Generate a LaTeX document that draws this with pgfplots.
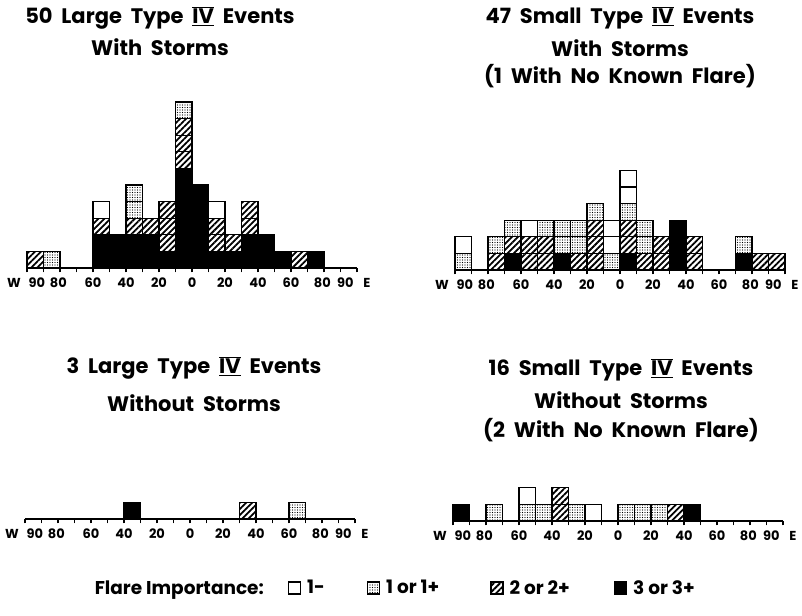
\documentclass[border=0pt]{standalone}
\usepackage{fontspec}
\setmainfont{Poppins}
\usepackage{pgfplots}
\pgfplotsset{compat=1.18}
\usepackage{pgfplotstable}
\usetikzlibrary{patterns.meta}

\newcommand\IV{\ensuremath{\overline{\underline{\mbox{IV}}}}}
\newcommand\tlfont{\fontsize{13}{13}\selectfont\bfseries}
\newcommand\ttfont{\fontsize{21}{21}\selectfont\bfseries\spaceskip=0.42em\relax}
\newcommand\lgfont{\fontsize{18.5}{18.5}\selectfont\bfseries}
\newcommand\gap[1]{\rule{#1}{0pt}}

% columns: k = 3 or 3+ (count), h1..h3 = 2 or 2+ units, d1..d2 = 1 or 1+ units, w1..w2 = 1- units
\pgfplotstableread{
x   k h1 h2 h3 d1 d2 w1 w2
-95 0 1 0 0 0 0 0 0
-85 0 0 0 0 1 0 0 0
-55 2 1 0 0 0 0 1 0
-45 2 0 0 0 0 0 0 0
-35 2 1 0 0 1 1 0 0
-25 2 1 0 0 0 0 0 0
-15 1 1 1 1 0 0 0 0
-5  6 1 1 1 1 0 0 0
5   5 0 0 0 0 0 0 0
15  1 1 1 0 0 0 1 0
25  1 1 0 0 0 0 0 0
35  2 1 1 0 0 0 0 0
45  2 0 0 0 0 0 0 0
55  1 0 0 0 0 0 0 0
65  0 1 0 0 0 0 0 0
75  1 0 0 0 0 0 0 0
}\tableA

\pgfplotstableread{
x   k h1 h2 h3 d1 d2 w1 w2
-95 0 0 0 0 1 0 1 0
-75 0 1 0 0 1 0 0 0
-65 1 1 0 0 1 0 0 0
-55 0 1 1 0 0 0 1 0
-45 0 1 1 0 1 0 0 0
-35 1 0 0 0 1 1 0 0
-25 0 1 0 0 1 1 0 0
-15 0 1 1 1 1 0 0 0
-5  0 0 0 0 1 0 1 1
5   1 1 1 0 1 0 1 1
15  0 1 0 0 1 1 0 0
25  0 1 1 0 0 0 0 0
35  3 0 0 0 0 0 0 0
45  0 1 1 0 0 0 0 0
75  1 0 0 0 1 0 0 0
85  0 1 0 0 0 0 0 0
95  0 1 0 0 0 0 0 0
}\tableB

\pgfplotstableread{
x   k h1 h2 h3 d1 d2 w1 w2
-35 1 0 0 0 0 0 0 0
35  0 1 0 0 0 0 0 0
65  0 0 0 0 1 0 0 0
}\tableC

\pgfplotstableread{
x   k h1 h2 h3 d1 d2 w1 w2
-95 1 0 0 0 0 0 0 0
-75 0 0 0 0 1 0 0 0
-55 0 0 0 0 1 0 1 0
-45 0 0 0 0 1 0 0 0
-35 0 1 1 0 0 0 0 0
-25 0 0 0 0 1 0 0 0
-15 0 0 0 0 0 0 1 0
5   0 0 0 0 1 0 0 0
15  0 0 0 0 1 0 0 0
25  0 0 0 0 1 0 0 0
35  0 1 0 0 0 0 0 0
45  1 0 0 0 0 0 0 0
}\tableD

\pgfplotsset{
  blk/.style={fill=black,draw=black},
  hat/.style={fill=white,draw=black,postaction={pattern={Lines[angle=45,distance=4.3pt,line width=1.8pt]}}},
  dts/.style={fill=white,draw=black,postaction={pattern={Dots[distance=2.5pt,radius=0.7pt]}}},
  wht/.style={fill=white,draw=black},
  panel/.style={
    x=1.65pt, y=16.6pt, xmin=-100, xmax=100, ymin=0,
    anchor=south west, ybar stacked, bar width=10,
    axis x line=bottom, axis y line=none,
    x axis line style={-, line width=1.4pt},
    enlargelimits=false, clip=false,
    xtick={-94,-81,-60,-40,-20,0,20,40,60,79,93},
    xticklabels={90,80,60,40,20,0,20,40,60,80,90},
    minor xtick={-100,-90,...,100},
    major tick length=0pt, minor tick length=4.5pt, tick align=outside,
    tick style={black, line width=1.3pt},
    xticklabel style={font=\tlfont, anchor=center, yshift=-15pt},
    every axis plot/.append style={line width=1.3pt},
  },
}

\newcommand\stack[1]{%
  \addplot[blk] table[x=x,y=k]{#1};
  \addplot[hat] table[x=x,y=h1]{#1};
  \addplot[hat] table[x=x,y=h2]{#1};
  \addplot[hat] table[x=x,y=h3]{#1};
  \addplot[dts] table[x=x,y=d1]{#1};
  \addplot[dts] table[x=x,y=d2]{#1};
  \addplot[wht] table[x=x,y=w1]{#1};
  \addplot[wht] table[x=x,y=w2]{#1};
}
\newcommand\WE{%
  \node[font=\tlfont] at ([xshift=-13pt,yshift=-15pt]axis cs:-100,0) {W};
  \node[font=\tlfont] at ([xshift=10pt,yshift=-15pt]axis cs:100,0) {E};
}

\begin{document}
\begin{tikzpicture}
\path[use as bounding box] (0pt,0pt) rectangle (802pt,615pt);

% titles
\node[font=\ttfont] at (160pt,597pt) {50 Large Type \IV\ Events};
\node[font=\ttfont] at (160pt,568pt) {With Storms};
\node[font=\ttfont] at (620pt,597pt) {47 Small Type \IV\ Events};
\node[font=\ttfont] at (620pt,567pt) {With Storms};
\node[font=\ttfont] at (620pt,539pt) {(1 With No Known Flare)};
\node[font=\ttfont] at (194pt,247pt) {3 Large Type \IV\ Events};
\node[font=\ttfont] at (194pt,212pt) {Without Storms};
\node[font=\ttfont] at (621pt,245pt) {16 Small Type \IV\ Events};
\node[font=\ttfont] at (621pt,215pt) {Without Storms};
\node[font=\ttfont] at (621pt,185pt) {(2 With No Known Flare)};

\begin{axis}[panel, at={(27pt,347pt)}]
\stack{\tableA}
\WE
\end{axis}

\begin{axis}[panel, at={(455pt,345pt)}]
\stack{\tableB}
\WE
\end{axis}

\begin{axis}[panel, at={(25pt,96pt)}]
\stack{\tableC}
\WE
\end{axis}

\begin{axis}[panel, at={(453pt,94pt)}]
\stack{\tableD}
\WE
\end{axis}

\begin{axis}[hide axis, scale only axis, width=802pt, height=615pt,
  at={(0pt,0pt)}, anchor=south west, xmin=0, xmax=1, ymin=0, ymax=1,
  legend columns=-1,
  legend image code/.code={\draw[#1, line width=1.3pt] (0pt,-6pt) rectangle (12pt,6pt);},
  legend style={at={(0.1105,0.044)}, anchor=west, draw=none, fill=none,
    font=\lgfont, column sep=4pt, inner sep=0pt}]
\addlegendimage{empty legend}\addlegendentry{Flare Importance:\gap{18pt}}
\addlegendimage{wht}\addlegendentry{1-\gap{36pt}}
\addlegendimage{dts}\addlegendentry{1 or 1+\gap{45pt}}
\addlegendimage{hat}\addlegendentry{2 or 2+\gap{38pt}}
\addlegendimage{blk}\addlegendentry{3 or 3+}
\end{axis}
\end{tikzpicture}
\end{document}
